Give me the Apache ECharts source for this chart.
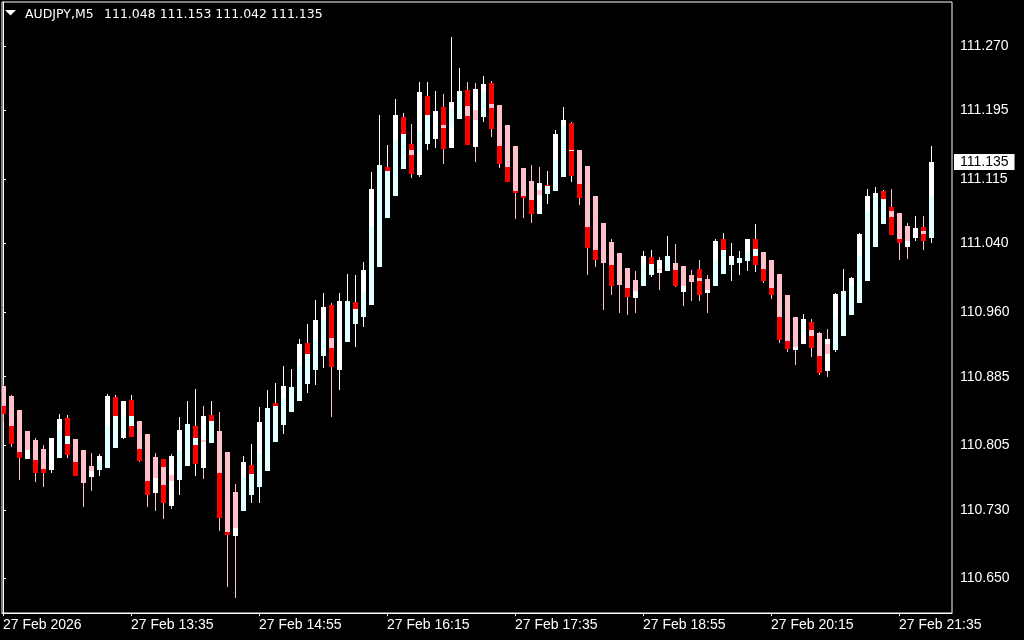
<!DOCTYPE html>
<html>
<head>
<meta charset="utf-8">
<title>AUDJPY,M5</title>
<script src="https://cdn.jsdelivr.net/npm/echarts@6/dist/echarts.min.js"></script>
<style>
  html, body { margin: 0; padding: 0; background: #000; }
  #chart { width: 1024px; height: 640px; }
</style>
</head>
<body>
<div id="chart"></div>
<script>
const symbol = 'AUDJPY,M5'
const timeLabels = ['27 Feb 2026', '27 Feb 13:35', '27 Feb 14:55', '27 Feb 16:15', '27 Feb 17:35', '27 Feb 18:55', '27 Feb 20:15', '27 Feb 21:35']
const timeLabelBars = [0, 16, 32, 48, 64, 80, 96, 112]
const priceTicks = [111.270, 111.195, 111.115, 111.040, 110.960, 110.885, 110.805, 110.730, 110.650]

// one entry per 5-minute bar, 12:15 .. 21:55
const open = [110.874, 110.863, 110.846, 110.822, 110.811, 110.801, 110.777, 110.792, 110.795, 110.812,
  110.800, 110.781, 110.777, 110.780, 110.803, 110.815, 110.816, 110.833, 110.818, 110.792,
  110.789, 110.793, 110.766, 110.782, 110.785, 110.839, 110.809, 110.822, 110.797, 110.751,
  110.730, 110.748, 110.758, 110.776, 110.810, 110.830, 110.845, 110.858, 110.878, 110.894,
  110.910, 110.969, 110.894, 110.927, 110.948, 110.956, 110.970, 111.014, 111.071, 111.097,
  111.128, 111.156, 111.121, 111.157, 111.163, 111.199, 111.152, 111.186, 111.219, 111.220,
  111.189, 111.227, 111.201, 111.178, 111.154, 111.128, 111.113, 111.111, 111.099, 111.102,
  111.119, 111.120, 111.149, 111.130, 111.095, 111.064, 111.042, 111.029, 111.012, 110.998,
  110.992, 111.005, 111.021, 111.009, 111.017, 111.014, 111.003, 111.010, 110.999, 110.992,
  111.006, 111.016, 111.019, 111.021, 111.016, 111.030, 111.021, 111.005, 110.980, 110.955,
  110.924, 110.949, 110.936, 110.929, 110.917, 110.934, 110.958, 110.972, 110.998, 111.037,
  111.064, 111.083, 111.076, 111.061, 111.048, 111.059, 111.048]
const close = [110.843, 110.808, 110.792, 110.790, 110.774, 110.774, 110.814, 110.836, 110.837, 110.771,
  110.762, 110.769, 110.793, 110.863, 110.861, 110.857, 110.858, 110.788, 110.749, 110.751,
  110.739, 110.736, 110.823, 110.830, 110.828, 110.780, 110.840, 110.722, 110.702, 110.701,
  110.786, 110.782, 110.832, 110.849, 110.854, 110.874, 110.873, 110.923, 110.924, 110.951,
  110.966, 110.897, 110.973, 110.973, 110.972, 111.009, 111.104, 111.131, 111.129, 111.190,
  111.187, 111.122, 111.216, 111.212, 111.194, 111.151, 111.205, 111.218, 111.156, 111.154,
  111.226, 111.175, 111.134, 111.113, 111.100, 111.094, 111.076, 111.075, 111.108, 111.168,
  111.184, 111.180, 111.094, 111.036, 111.022, 111.019, 110.992, 110.993, 110.979, 110.978,
  111.026, 111.024, 111.007, 111.026, 110.992, 110.985, 110.996, 110.981, 110.984, 111.043,
  111.045, 111.026, 111.023, 111.045, 111.045, 110.998, 110.981, 110.929, 110.918, 110.917,
  110.952, 110.920, 110.890, 110.893, 110.981, 110.985, 111.000, 111.051, 111.095, 111.099,
  111.101, 111.051, 111.042, 111.037, 111.058, 111.044, 111.135]
const high = [110.878, 110.864, 110.846, 110.822, 110.814, 110.806, 110.814, 110.842, 110.840, 110.812,
  110.800, 110.796, 110.795, 110.865, 110.864, 110.857, 110.864, 110.833, 110.818, 110.796,
  110.789, 110.795, 110.838, 110.857, 110.871, 110.851, 110.857, 110.844, 110.797, 110.760,
  110.793, 110.807, 110.850, 110.870, 110.878, 110.897, 110.894, 110.929, 110.946, 110.974,
  110.983, 110.971, 110.983, 111.004, 111.003, 111.019, 111.123, 111.190, 111.155, 111.208,
  111.192, 111.179, 111.228, 111.228, 111.218, 111.214, 111.280, 111.244, 111.228, 111.227,
  111.235, 111.229, 111.201, 111.178, 111.154, 111.128, 111.132, 111.129, 111.124, 111.172,
  111.199, 111.182, 111.149, 111.130, 111.095, 111.064, 111.045, 111.029, 111.012, 111.008,
  111.031, 111.033, 111.024, 111.049, 111.039, 111.014, 111.009, 111.021, 111.003, 111.045,
  111.052, 111.041, 111.031, 111.045, 111.063, 111.030, 111.021, 111.005, 110.980, 110.955,
  110.958, 110.952, 110.937, 110.941, 110.983, 111.010, 111.001, 111.052, 111.104, 111.106,
  111.102, 111.104, 111.076, 111.064, 111.072, 111.072, 111.153]
const low = [110.833, 110.804, 110.766, 110.790, 110.763, 110.758, 110.774, 110.792, 110.791, 110.771,
  110.735, 110.753, 110.770, 110.780, 110.803, 110.814, 110.816, 110.787, 110.734, 110.730,
  110.720, 110.732, 110.749, 110.782, 110.771, 110.767, 110.809, 110.707, 110.641, 110.629,
  110.730, 110.739, 110.739, 110.776, 110.810, 110.820, 110.845, 110.858, 110.867, 110.877,
  110.896, 110.839, 110.871, 110.927, 110.921, 110.944, 110.970, 111.014, 111.071, 111.097,
  111.128, 111.118, 111.119, 111.150, 111.152, 111.134, 111.152, 111.186, 111.156, 111.136,
  111.183, 111.165, 111.129, 111.113, 111.070, 111.071, 111.065, 111.075, 111.087, 111.102,
  111.119, 111.113, 111.086, 111.005, 111.014, 110.964, 110.981, 110.960, 110.958, 110.960,
  110.992, 111.002, 110.987, 111.009, 110.991, 110.969, 110.974, 110.974, 110.960, 110.992,
  111.006, 110.998, 111.004, 111.009, 111.008, 110.995, 110.977, 110.925, 110.915, 110.900,
  110.924, 110.909, 110.888, 110.886, 110.915, 110.934, 110.958, 110.972, 110.998, 111.037,
  111.064, 111.051, 111.022, 111.023, 111.044, 111.034, 111.042]

// body colour bands, top to bottom (P pink, R red, W white, C light cyan), and the prices where they change
const tone = ['PR', 'PR', 'PR', 'PW', 'PR', 'PR', 'W', 'WC', 'RCR', 'PR',
  'P', 'PW', 'WC', 'WC', 'RC', 'WCW', 'RCR', 'PR', 'PR', 'PW',
  'RPR', 'WPW', 'WC', 'C', 'RCR', 'WPW', 'RC', 'PR', 'PR', 'PW',
  'WC', 'RC', 'WC', 'C', 'RC', 'WC', 'C', 'WC', 'RC', 'WC',
  'WC', 'RPR', 'W', 'C', 'RC', 'WC', 'WC', 'C', 'RC', 'WC',
  'RC', 'RPR', 'WCW', 'RC', 'W', 'RPR', 'WCW', 'C', 'RPR', 'WPW',
  'WC', 'RPR', 'PR', 'PR', 'PR', 'PR', 'PR', 'WPW', 'RC', 'WC',
  'WC', 'RWR', 'PR', 'PR', 'PR', 'P', 'PR', 'P', 'PR', 'PW',
  'WC', 'RC', 'WPW', 'C', 'PR', 'PW', 'P', 'RPR', 'PW', 'WC',
  'RC', 'WC', 'C', 'WC', 'RCR', 'PR', 'PR', 'PR', 'PR', 'PW',
  'WCW', 'RPR', 'PR', 'WPW', 'WC', 'C', 'WC', 'WC', 'WC', 'WC',
  'RC', 'RPR', 'PR', 'PW', 'W', 'RPR', 'WC']
const cuts = [[110.851], [110.828], [110.797], [110.800], [110.788], [110.778], [], [110.823], [110.816, 110.807], [110.786],
  [], [110.775], [110.788], [110.828], [110.839], [110.839, 110.821], [110.839, 110.828], [110.801], [110.764], [110.767],
  [110.780, 110.759], [110.770, 110.764], [110.800], [], [110.814, 110.806], [110.811, 110.809], [110.833], [110.773], [110.704], [110.709],
  [110.768], [110.772], [110.795], [], [110.851], [110.860], [], [110.897], [110.911], [110.928],
  [110.951], [110.930, 110.918], [], [], [110.964], [110.985], [111.060], [], [111.124], [111.161],
  [111.168], [111.149, 111.143], [111.171, 111.145], [111.190], [], [111.178, 111.174], [111.198, 111.176], [], [111.200, 111.189], [111.196, 111.184],
  [111.216], [111.203, 111.198], [111.154], [111.129], [111.101], [111.095], [111.091], [111.102, 111.097], [111.107], [111.137],
  [111.177], [111.149, 111.148], [111.109], [111.059], [111.033], [], [111.015], [], [110.988], [110.985],
  [111.015], [111.016], [111.010, 111.009], [], [111.009], [110.991], [], [111.000, 110.996], [110.986], [111.022],
  [111.033], [111.021], [], [111.031], [111.034, 111.026], [111.010], [110.988], [110.955], [110.927], [110.920],
  [110.939, 110.937], [110.939, 110.932], [110.909], [110.923, 110.911], [110.952], [], [110.990], [111.025], [111.078], [111.094],
  [111.092], [111.078, 111.071], [111.045], [111.043], [], [111.055, 111.051], [111.095]]

const colors = { P: '#ffc0cb', R: '#ff0000', W: '#ffffff', C: '#e0ffff' }
const last = close.length - 1
const candles = open.map((o, i) => [i, o, close[i], low[i], high[i]])

const renderCandle = (params, api) => {
  const i = params.dataIndex
  const o = api.value(1)
  const c = api.value(2)
  const cx = Math.round(api.coord([api.value(0), o])[0])
  const py = (v) => Math.round(api.coord([0, v])[1])
  const edges = [Math.max(o, c), ...cuts[i], Math.min(o, c)]
  const yHi = py(api.value(4))
  const children = [{
    type: 'rect',
    shape: { x: cx, y: yHi, width: 1, height: Math.max(1, py(api.value(3)) - yHi + 1) },
    style: { fill: c < o ? colors.P : colors.W }
  }]
  tone[i].split('').forEach((k, j) => {
    const y0 = py(edges[j])
    const y1 = py(edges[j + 1])
    children.push({
      type: 'rect',
      shape: { x: cx - 2, y: y0, width: 5, height: Math.max(1, y1 - y0 + (j === tone[i].length - 1 ? 1 : 0)) },
      style: { fill: colors[k] }
    })
  })
  return { type: 'group', children }
}

const labelFont = { color: '#fff', fontFamily: 'Liberation Sans', fontSize: 14 }
const headerFont = '12.5px "DejaVu Sans"'

const option = {
  backgroundColor: '#000',
  animation: false,
  grid: {
    left: 2, right: 72, top: 2, bottom: 27,
    show: true, borderColor: '#fff', borderWidth: 1,
    outerBoundsMode: 'none'
  },
  graphic: [
    { type: 'polygon', shape: { points: [[5, 10], [16, 10], [10.5, 15.5]] }, style: { fill: '#fff' } },
    { type: 'text', left: 25, top: 8, style: { text: symbol, fill: '#fff', font: headerFont } },
    {
      type: 'text', left: 104, top: 8,
      style: {
        text: [open[last], high[last], low[last], close[last]].map((v) => v.toFixed(3)).join(' '),
        fill: '#fff', font: headerFont
      }
    }
  ],
  xAxis: {
    type: 'value',
    min: -0.125,
    max: 118.625,
    splitLine: { show: false },
    axisLine: { onZero: false, lineStyle: { color: '#fff' } },
    axisTick: { customValues: timeLabelBars, length: 3, lineStyle: { color: '#fff' } },
    axisLabel: {
      customValues: timeLabelBars,
      formatter: (v) => timeLabels[timeLabelBars.indexOf(v)],
      align: 'left',
      margin: 5,
      ...labelFont
    }
  },
  yAxis: [
    {
      type: 'value',
      position: 'right',
      min: 110.6099,
      max: 111.3212,
      scale: true,
      splitLine: { show: false },
      axisLine: { show: true, lineStyle: { color: '#fff' } },
      axisTick: { show: true, customValues: priceTicks, length: 3, lineStyle: { color: '#fff' } },
      axisLabel: { customValues: priceTicks, formatter: (v) => v.toFixed(3), margin: 8, ...labelFont }
    },
    {
      type: 'value',
      position: 'right',
      min: 110.6099,
      max: 111.3212,
      scale: true,
      splitLine: { show: false },
      axisLine: { show: false },
      axisTick: { show: false },
      axisLabel: {
        customValues: [close[last]],
        formatter: (v) => v.toFixed(3),
        margin: 2,
        padding: [1, 6, 1, 6],
        backgroundColor: '#fff',
        ...labelFont,
        color: '#000'
      }
    }
  ],
  series: [
    {
      type: 'custom',
      renderItem: renderCandle,
      data: candles,
      encode: { x: 0, y: [1, 2, 3, 4] },
      clip: true,
      silent: true
    }
  ]
}

const chart = echarts.init(document.getElementById('chart'), null, { renderer: 'canvas' })
chart.setOption(option)
</script>
</body>
</html>
